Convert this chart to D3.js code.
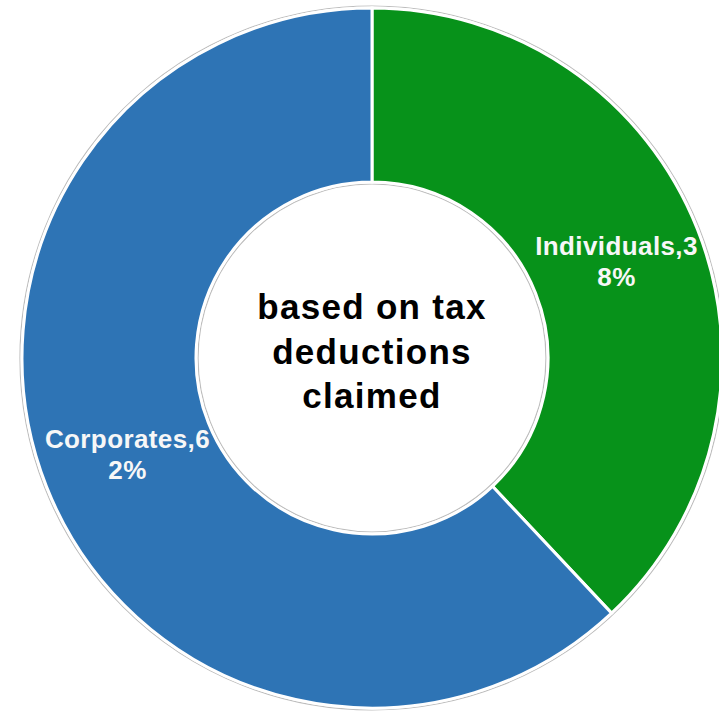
<!DOCTYPE html>
<html>
<head>
<meta charset="utf-8">
<script src="https://cdn.jsdelivr.net/npm/d3@7"></script>
<style>
  body { margin: 0; background: #fff; }
  svg { display: block; }
</style>
</head>
<body>
<div id="container"></div>
<script>
/* DATA */
const categories = ["Individuals", "Corporates"]
const shares = [38, 62]
const sliceColors = ["#07921a", "#2e74b5"]
const centerLines = ["based on tax", "deductions", "claimed"]

/* CONSTANTS */
const width = 719,
  height = 714
const cx = 372, cy = 358
const outerR = 350, innerR = 176

const svg = d3.select("#container")
  .append("svg")
  .attr("width", width)
  .attr("height", height)

const g = svg.append("g")
  .attr("transform", `translate(${cx},${cy})`)

const data = categories.map((c, i) => ({ name: c, value: shares[i], color: sliceColors[i] }))

const pie = d3.pie()
  .value(d => d.value)
  .sort(null)

const arc = d3.arc()
  .innerRadius(innerR)
  .outerRadius(outerR)

const labelArc = d3.arc()
  .innerRadius((innerR + outerR) / 2)
  .outerRadius((innerR + outerR) / 2)

const arcs = pie(data)

// thin grey rims outside the white slice borders
g.append("circle")
  .attr("r", outerR + 2)
  .attr("fill", "none")
  .attr("stroke", "#bdbdbd")
  .attr("stroke-width", 1.2)
g.append("circle")
  .attr("r", innerR - 2)
  .attr("fill", "none")
  .attr("stroke", "#bdbdbd")
  .attr("stroke-width", 1.2)

g.selectAll("path.slice")
  .data(arcs)
  .join("path")
  .attr("class", "slice")
  .attr("d", arc)
  .attr("fill", d => d.data.color)
  .attr("stroke", "#fff")
  .attr("stroke-width", 3)

// labels, wrapped by characters like the original
const labelW = 170
const labels = g.selectAll("text.lbl")
  .data(arcs)
  .join("text")
  .attr("class", "lbl")
  .attr("text-anchor", "middle")
  .attr("fill", "#f7f7f7")
  .style("font-family", "'Liberation Sans', Arial, sans-serif")
  .style("font-weight", "bold")
  .style("font-size", "26px")
  .style("letter-spacing", "0.4px")

labels.each(function(d) {
  const t = d3.select(this)
  const full = `${d.data.name},${d.data.value}%`
  const probe = t.append("tspan")
  let lines = [], cur = ""
  for (const ch of full) {
    probe.text(cur + ch)
    if (probe.node().getComputedTextLength() > labelW && cur) {
      lines.push(cur); cur = ch
    } else cur += ch
  }
  lines.push(cur)
  probe.remove()
  const [x, y] = labelArc.centroid(d)
  const lh = 31
  lines.forEach((ln, i) => {
    t.append("tspan")
      .attr("x", x)
      .attr("y", y + (i - (lines.length - 1) / 2) * lh + 9)
      .text(ln)
  })
})

// centre text
g.append("text")
  .attr("text-anchor", "middle")
  .attr("fill", "#000")
  .style("font-family", "'Liberation Sans', Arial, sans-serif")
  .style("font-weight", "bold")
  .style("font-size", "35px")
  .style("letter-spacing", "1.3px")
  .selectAll("tspan")
  .data(centerLines)
  .join("tspan")
  .attr("x", 0)
  .attr("y", (d, i) => -39 + i * 44.5)
  .text(d => d)
</script>
</body>
</html>
